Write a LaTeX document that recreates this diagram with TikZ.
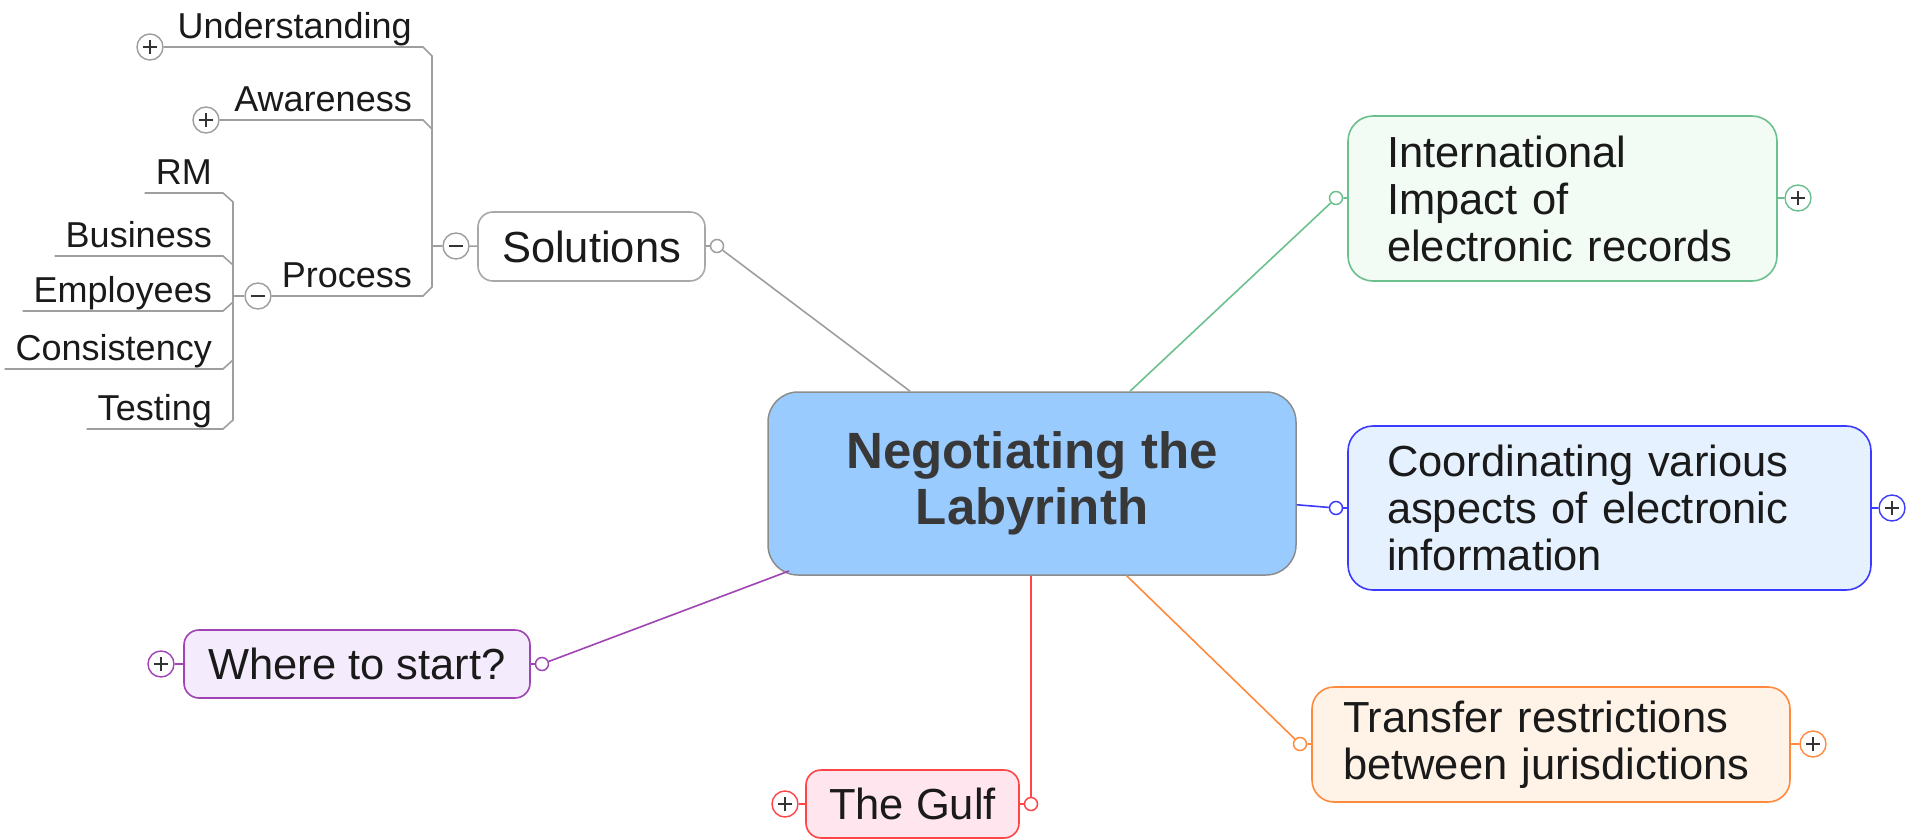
\documentclass[tikz,border=0pt]{standalone}
\usepackage{fontspec}
\setmainfont{Liberation Sans}
\usetikzlibrary{calc}
\definecolor{gy}{HTML}{9E9E9E}
\definecolor{gyb}{HTML}{A8A8A8}
\definecolor{gr}{HTML}{6CC08F}
\definecolor{grf}{HTML}{F2FBF4}
\definecolor{bl}{HTML}{3B3BFF}
\definecolor{blf}{HTML}{E5F1FE}
\definecolor{org}{HTML}{FF8A3D}
\definecolor{orgf}{HTML}{FFF3E8}
\definecolor{pu}{HTML}{A043B3}
\definecolor{puf}{HTML}{F4ECFC}
\definecolor{rd}{HTML}{FF4545}
\definecolor{rdf}{HTML}{FFE5EE}
\definecolor{cenf}{HTML}{99CBFF}
\definecolor{cenb}{HTML}{8C8C8C}
\definecolor{cent}{HTML}{383838}
\definecolor{txt}{HTML}{1A1A1A}
\begin{document}
\begin{tikzpicture}[x=1pt,y=-1pt,
  central/.style={draw=cenb, fill=cenf, rounded corners=30pt, minimum width=528pt, minimum height=183pt,
    align=center, font=\fontsize{51}{56}\selectfont\bfseries, text=cent, line width=1.5pt, inner sep=0pt},
  topic/.style 2 args={draw=#1, fill=#2, rounded corners=15pt, line width=1.6pt, inner sep=0pt,
    font=\fontsize{43.5}{47}\selectfont, text=txt},
  conn/.style={circle, draw=#1, fill=white, minimum size=13pt, inner sep=0pt, line width=1.5pt},
  pm/.style={circle, draw=#1, fill=white, minimum size=26pt, inner sep=0pt, line width=1.4pt},
  plussign/.style={path picture={\draw[line width=1.6pt, black!80]
      (path picture bounding box.center) ++(-7pt,0) -- ++(14pt,0)
      (path picture bounding box.center) ++(0,-7pt) -- ++(0,14pt);}},
  minussign/.style={path picture={\draw[line width=1.6pt, black!80]
      (path picture bounding box.center) ++(-7pt,0) -- ++(14pt,0);}},
  subtxt/.style={font=\fontsize{36}{40}\selectfont, text=txt, inner xsep=11pt, inner ysep=8pt,
    text depth=0pt, anchor=south east},
  sub/.style={draw=gy, line width=1.6pt},
  link/.style={draw=#1, line width=1.6pt}
]
\useasboundingbox (0,0) rectangle (1923,840);

% central
\node[central] (c) at (1032,483.5) {Negotiating the\\Labyrinth};
\coordinate (cwhere) at (789,571);

% main topics
\node[topic={gyb}{white}, minimum width=227pt, minimum height=69pt] (sol) at (591.5,246.5) {Solutions};
\node[topic={gr}{grf}, rounded corners=25pt, minimum width=429pt, minimum height=165pt, text width=351pt, align=left] (intl) at (1562.5,198.5) {International\\Impact of\\electronic records};
\node[topic={bl}{blf}, rounded corners=25pt, minimum width=523pt, minimum height=164pt, text width=445pt, align=left] (coord) at (1609.5,508) {Coordinating various\\aspects of electronic\\information};
\node[topic={org}{orgf}, rounded corners=22pt, minimum width=478pt, minimum height=115pt, text width=416pt, align=left] (trans) at (1551,744.5) {Transfer restrictions\\between jurisdictions};
\node[topic={pu}{puf}, minimum width=346pt, minimum height=68pt] (where) at (357,664) {Where to start?};
\node[topic={rd}{rdf}, minimum width=213pt, minimum height=68pt] (gulf) at (912.5,804) {The Gulf};

% connector circles
\node[conn=gy] (solc) at (717,246) {};
\node[conn=gr] (intlc) at (1336,198) {};
\node[conn=bl] (coordc) at (1336,508) {};
\node[conn=org] (transc) at (1300,744) {};
\node[conn=pu] (wherec) at (542,664) {};
\node[conn=rd] (gulfc) at (1031,804) {};

% plus / minus buttons
\node[pm=gy, minussign] (solm) at (456,246) {};
\node[pm=gr, plussign] (intlp) at (1798,198) {};
\node[pm=bl, plussign] (coordp) at (1892,508) {};
\node[pm=org, plussign] (transp) at (1813,744) {};
\node[pm=pu, plussign] (wherep) at (161,664) {};
\node[pm=rd, plussign] (gulfp) at (785,804) {};

% links to central
\draw[link=gy] (solc) -- (c);
\draw[link=gr] (intlc) -- (c);
\draw[link=bl] (coordc) -- (c);
\draw[link=org] (transc) -- (c);
\draw[link=pu] (wherec) -- (cwhere);
\draw[link=rd] (gulfc) -- (gulfc |- c.south);

% stubs
\draw[link=gy] (sol) -- (solc);
\draw[link=gr] (intl) -- (intlc);
\draw[link=bl] (coord) -- (coordc);
\draw[link=org] (trans) -- (transc);
\draw[link=pu] (where) -- (wherec);
\draw[link=rd] (gulf) -- (gulfc);
\draw[link=gr] (intl) -- (intlp);
\draw[link=bl] (coord) -- (coordp);
\draw[link=org] (trans) -- (transp);
\draw[link=pu] (where) -- (wherep);
\draw[link=rd] (gulf) -- (gulfp);
\draw[link=gy] (sol) -- (solm);

% Solutions subtopics
\node[subtxt] (und) at (423,47) {Understanding};
\node[subtxt] (awa) at (423,120) {Awareness};
\node[subtxt] (pro) at (423,296) {Process};
\node[pm=gy, plussign] (undp) at (150,47) {};
\node[pm=gy, plussign] (awap) at (206,120) {};
\node[pm=gy, minussign] (prom) at (258,296) {};

\coordinate (sa) at (432,56);
\coordinate (sb) at (432,129);
\coordinate (sc) at (432,287);
\coordinate (sj) at (432,246);
\draw[sub] (undp) -- (und.south east) -- (sa) -- (sc) -- (pro.south east) -- (prom);
\draw[sub] (awap) -- (awa.south east) -- (sb);
\draw[sub] (sj) -- (solm);

% Process subtopics
\node[subtxt] (rm) at (223,193) {RM};
\node[subtxt] (bus) at (223,256) {Business};
\node[subtxt] (emp) at (223,311) {Employees};
\node[subtxt] (con) at (223,369) {Consistency};
\node[subtxt] (tes) at (223,429) {Testing};

\coordinate (pa) at (233,202);
\coordinate (pb) at (233,265);
\coordinate (pc) at (233,302);
\coordinate (pd) at (233,360);
\coordinate (pe) at (233,420);
\coordinate (pj) at (233,296);
\draw[sub] (rm.south west) -- (rm.south east) -- (pa) -- (pe) -- (tes.south east) -- (tes.south west);
\draw[sub] (bus.south west) -- (bus.south east) -- (pb);
\draw[sub] (emp.south west) -- (emp.south east) -- (pc);
\draw[sub] (con.south west) -- (con.south east) -- (pd);
\draw[sub] (pj) -- (prom);
\end{tikzpicture}
\end{document}
